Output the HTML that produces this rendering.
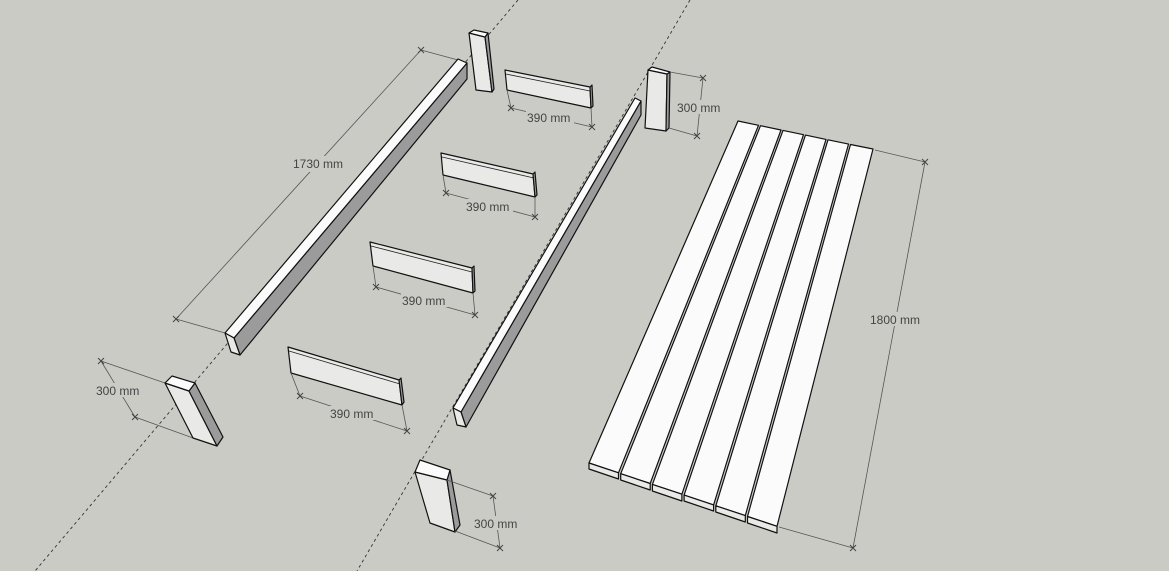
<!DOCTYPE html>
<html><head><meta charset="utf-8"><style>
html,body{margin:0;padding:0;background:#cbcbc6;}
svg{display:block}
text{font-family:"Liberation Sans",sans-serif;font-size:12px;fill:#444}
.d{stroke:#555;stroke-width:0.8;fill:none}
.ds{stroke:#333;stroke-width:0.9;fill:none;stroke-dasharray:3,3}
.t{fill:#fbfbfb;stroke:#111;stroke-width:1.2;stroke-linejoin:round}
.f{fill:#e9e9e7;stroke:#111;stroke-width:1.2;stroke-linejoin:round}
.g{fill:#9b9b9b;stroke:#111;stroke-width:1.2;stroke-linejoin:round}
.e{stroke:#222;stroke-width:0.8}
.lb{fill:#cbcbc6}
.k{stroke:#444;stroke-width:1}
</style></head><body>
<svg width="1169" height="571" viewBox="0 0 1169 571">
<rect width="1169" height="571" fill="#cbcbc6"/>
<line class="ds" x1="518" y1="0" x2="35" y2="571"/>
<line class="ds" x1="690" y1="0" x2="357" y2="571"/>

<line class="d" x1="421" y1="50" x2="176" y2="319"/>
<line class="d" x1="421" y1="50" x2="458" y2="60"/>
<line class="d" x1="176" y1="319" x2="225" y2="333"/>
<path class="k" d="M418,47l6,6M418,53l6,-6M173,316l6,6M173,322l6,-6"/>
<rect class="lb" x="290" y="156" width="56" height="16"/>
<text x="293" y="168">1730 mm</text>

<polygon class="g" points="467,63 467,79 240,355 234,338"/>
<polygon class="t" points="458,59 467,63 234,338 225,333"/>
<polygon class="f" points="225,333 234,338 240,355 231,352"/>

<polygon class="g" points="641,101 641,115 466,427 461,412"/>
<polygon class="t" points="635,98 641,101 461,412 453,408"/>
<polygon class="f" points="453,408 461,412 466,427 457,425"/>

<polygon class="f" points="469,33 485,37 492,92 476,90"/>
<polygon class="g" points="485,37 488,33 494,89 492,92"/>
<polygon class="t" points="469,33 474,30 488,33 485,37"/>

<polygon class="f" points="648,70 667,74 666,131 645,128"/>
<polygon class="g" points="667,74 670,72 669,128 666,131"/>
<polygon class="t" points="648,70 652,67 670,72 667,74"/>
<line class="d" x1="670" y1="72" x2="703" y2="78"/>
<line class="d" x1="669" y1="128" x2="697" y2="136"/>
<line class="d" x1="703" y1="78" x2="697" y2="136"/>
<path class="k" d="M700,75l6,6M700,81l6,-6M694,133l6,6M694,139l6,-6"/>
<rect class="lb" x="676" y="100" width="46" height="14"/>
<text x="677" y="112">300 mm</text>

<line class="d" x1="101" y1="361" x2="165" y2="383"/>
<line class="d" x1="135" y1="417" x2="193" y2="438"/>
<line class="d" x1="101" y1="361" x2="135" y2="417"/>
<path class="k" d="M98,358l6,6M98,364l6,-6M132,414l6,6M132,420l6,-6"/>
<rect class="lb" x="95" y="383" width="46" height="14"/>
<text x="96" y="395">300 mm</text>
<polygon class="f" points="165,383 189,391 217,446 193,438"/>
<polygon class="g" points="189,391 195,383 223,437 217,446"/>
<polygon class="t" points="165,383 172,376 195,383 189,391"/>

<polygon class="f" points="415,472 447,480 455,532 430,523"/>
<polygon class="g" points="447,480 450,470 460,525 455,532"/>
<polygon class="t" points="415,472 420,460 450,470 447,480"/>
<line class="d" x1="447" y1="480" x2="493" y2="496"/>
<line class="d" x1="455" y1="531" x2="500" y2="548"/>
<line class="d" x1="493" y1="496" x2="500" y2="548"/>
<path class="k" d="M490,493l6,6M490,499l6,-6M497,545l6,6M497,551l6,-6"/>
<rect class="lb" x="473" y="516" width="46" height="14"/>
<text x="474" y="528">300 mm</text>

<!-- short boards -->
<polygon class="f" points="505,70 590,87 591,108 507,90"/>
<line class="e" x1="506" y1="74" x2="590" y2="91"/>
<polygon class="g" points="590,87 592,85 593,106 591,108"/>
<line class="d" x1="507" y1="90" x2="511" y2="108"/>
<line class="d" x1="591" y1="108" x2="592" y2="127"/>
<line class="d" x1="511" y1="108" x2="592" y2="127"/>
<path class="k" d="M508,105l6,6M508,111l6,-6M589,124l6,6M589,130l6,-6"/>
<rect class="lb" x="526" y="111" width="48" height="14"/>
<text x="527" y="122">390 mm</text>

<polygon class="f" points="441,153 533,174 535,197 443,175"/>
<line class="e" x1="442" y1="157" x2="534" y2="178"/>
<polygon class="g" points="533,174 535,172 537,195 535,197"/>
<line class="d" x1="443" y1="175" x2="446" y2="193"/>
<line class="d" x1="535" y1="197" x2="535" y2="217"/>
<line class="d" x1="446" y1="193" x2="535" y2="217"/>
<path class="k" d="M443,190l6,6M443,196l6,-6M532,214l6,6M532,220l6,-6"/>
<rect class="lb" x="465" y="199" width="48" height="14"/>
<text x="466" y="211">390 mm</text>

<polygon class="f" points="370,242 472,268 473,293 373,266"/>
<line class="e" x1="371" y1="246" x2="472" y2="272"/>
<polygon class="g" points="472,268 474,266 475,291 473,293"/>
<line class="d" x1="373" y1="266" x2="376" y2="287"/>
<line class="d" x1="473" y1="293" x2="475" y2="315"/>
<line class="d" x1="376" y1="287" x2="475" y2="315"/>
<path class="k" d="M373,284l6,6M373,290l6,-6M472,312l6,6M472,318l6,-6"/>
<rect class="lb" x="401" y="293" width="48" height="14"/>
<text x="402" y="305">390 mm</text>

<polygon class="f" points="288,347 399,380 402,405 291,373"/>
<line class="e" x1="289" y1="351" x2="400" y2="384"/>
<polygon class="g" points="399,380 401,378 404,402 402,405"/>
<line class="d" x1="291" y1="373" x2="300" y2="396"/>
<line class="d" x1="402" y1="405" x2="407" y2="431"/>
<line class="d" x1="300" y1="396" x2="407" y2="431"/>
<path class="k" d="M297,393l6,6M297,399l6,-6M404,428l6,6M404,434l6,-6"/>
<rect class="lb" x="329" y="406" width="48" height="14"/>
<text x="330" y="418">390 mm</text>

<g>
<polygon class="t" points="738,121 758.5,125.3 618.5,472.8 589,463"/>
<polygon class="f" points="589,463 618.5,472.8 618.5,479 589,469"/>
<polygon class="t" points="760.5,125.7 781,130 650.2,483.5 620.7,473.7"/>
<polygon class="f" points="620.7,473.7 650.2,483.5 650.2,490 620.7,480"/>
<polygon class="t" points="783,130.4 803.5,134.7 681.9,494.2 652.4,484.4"/>
<polygon class="f" points="652.4,484.4 681.9,494.2 681.9,501 652.4,491"/>
<polygon class="t" points="805.5,135.1 826,139.4 713.6,504.9 684.1,495.1"/>
<polygon class="f" points="684.1,495.1 713.6,504.9 713.6,511 684.1,501"/>
<polygon class="t" points="828,139.8 848.5,144.1 745.3,515.6 715.8,505.8"/>
<polygon class="f" points="715.8,505.8 745.3,515.6 745.3,522 715.8,512"/>
<polygon class="t" points="850.5,144.5 873,149 777,526.3 747.5,516.5"/>
<polygon class="f" points="747.5,516.5 777,526.3 777,533 747.5,523"/>
</g>
<line class="d" x1="875" y1="150" x2="925" y2="162"/>
<line class="d" x1="779" y1="527" x2="853" y2="548"/>
<line class="d" x1="925" y1="162" x2="853" y2="548"/>
<path class="k" d="M922,159l6,6M922,165l6,-6M850,545l6,6M850,551l6,-6"/>
<rect class="lb" x="869" y="312" width="54" height="14"/>
<text x="870" y="324">1800 mm</text>
</svg>
</body></html>
